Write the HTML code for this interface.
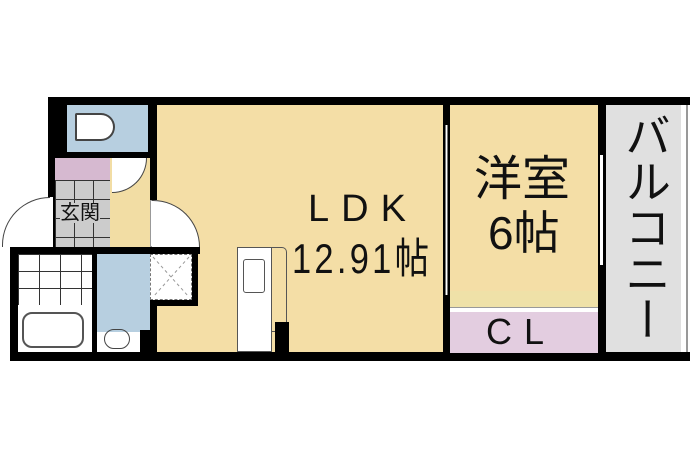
<!DOCTYPE html>
<html><head><meta charset="utf-8"><style>
body{margin:0;width:690px;height:460px;background:#fff;position:relative;overflow:hidden;font-family:"Liberation Sans","Noto Sans CJK JP",sans-serif}
div{position:absolute;box-sizing:border-box}
.b{background:#000}
.t{color:#111;white-space:nowrap;line-height:1}
</style></head><body>
<!-- LDK base -->
<div style="left:157px;top:105px;width:286px;height:247px;background:#f4dea6"></div>
<!-- walls -->
<div class="b" style="left:48px;top:97px;width:642px;height:8px"></div>
<div class="b" style="left:48px;top:97px;width:19px;height:100px"></div>
<div class="b" style="left:48px;top:197px;width:7px;height:50px"></div>
<div style="left:50px;top:197px;width:3px;height:50px;background:#fff"></div>
<div class="b" style="left:148px;top:97px;width:9px;height:103px"></div>
<div style="left:150px;top:200px;width:4px;height:47px;background:#fff;border:1px solid #999"></div>
<div class="b" style="left:10px;top:247px;width:190px;height:7px"></div>
<div class="b" style="left:10px;top:247px;width:8px;height:113px"></div>
<div class="b" style="left:10px;top:352px;width:680px;height:9px"></div>
<div class="b" style="left:150px;top:300px;width:48px;height:6px"></div>
<div class="b" style="left:150px;top:300px;width:7px;height:52px"></div>
<div class="b" style="left:192px;top:247px;width:6px;height:59px"></div>
<div class="b" style="left:443px;top:97px;width:7px;height:260px"></div>
<div class="b" style="left:598px;top:97px;width:8px;height:260px"></div>
<div class="b" style="left:586px;top:97px;width:30px;height:18px"></div>
<div class="b" style="left:586px;top:340px;width:30px;height:20px"></div>
<!-- toilet -->
<div style="left:67px;top:105px;width:81px;height:47px;background:#b7cfe0"></div>
<div style="left:75px;top:113px;width:40px;height:28px;border:2px solid #444;border-radius:2px 16px 16px 2px;background:#fff"></div>
<div class="b" style="left:55px;top:152px;width:102px;height:6px"></div>
<!-- entrance -->
<div style="left:55px;top:158px;width:55px;height:22px;background:#d6b9d0"></div>
<div style="left:55px;top:180px;width:55px;height:67px;background:#ccc;background-image:linear-gradient(#333 1px,transparent 1px),linear-gradient(90deg,#333 1px,transparent 1px);background-size:19px 19px"></div>
<div class="t" style="left:60px;top:203px;font-size:20px;background:#ccc">玄関</div>
<div style="left:110px;top:158px;width:40px;height:89px;background:#f2dda4"></div>
<div style="left:112px;top:158px;width:35px;height:35px;border:1px solid #444;border-radius:0 0 35px 0;background:#fff;border-left:none;border-top:none"></div>
<div style="left:2px;top:197px;width:48px;height:50px;border:1px solid #444;border-radius:50px 0 0 0;background:#fff;border-right:none;border-bottom:none"></div>
<div style="left:152px;top:200px;width:48px;height:47px;border:1px solid #444;border-radius:0 48px 0 0;background:#fff;border-left:none;border-bottom:none"></div>
<!-- bath -->
<div style="left:18px;top:254px;width:74px;height:52px;background:#fff;background-image:linear-gradient(#333 1px,transparent 1px),linear-gradient(90deg,#333 1px,transparent 1px);background-size:21px 17px"></div>
<div style="left:18px;top:305px;width:74px;height:47px;background:#fff"></div>
<div style="left:22px;top:312px;width:62px;height:36px;border:2px solid #555;border-radius:10px"></div>
<div class="b" style="left:92px;top:254px;width:5px;height:98px"></div>
<div style="left:97px;top:254px;width:53px;height:78px;background:#b7cfe0"></div>
<div style="left:97px;top:332px;width:43px;height:20px;background:#fff"></div>
<div style="left:104px;top:329px;width:26px;height:20px;border:1px solid #444;border-radius:12px"></div>
<div class="b" style="left:140px;top:330px;width:17px;height:22px"></div>
<div style="left:150px;top:254px;width:42px;height:46px;background:#fff;border:1px dashed #777"></div>
<svg style="position:absolute;left:150px;top:254px" width="42" height="46"><path d="M3 3L39 43M39 3L3 43" stroke="#999" stroke-dasharray="3 3"/></svg>
<!-- kitchen -->
<div style="left:237px;top:247px;width:35px;height:105px;background:#fff;border:1px solid #555"></div>
<div style="left:243px;top:259px;width:22px;height:34px;border:1px solid #555;border-radius:3px"></div>
<div style="left:272px;top:247px;width:15px;height:85px;border:1px solid #555;border-left:none;border-radius:0 5px 0 0"></div>
<div class="b" style="left:275px;top:322px;width:14px;height:30px"></div>
<div class="t" style="left:308px;top:190px;font-size:38px;letter-spacing:12px">LDK</div>
<div class="t" style="left:292px;top:238px;font-size:42px;transform:scaleX(.82);transform-origin:left;letter-spacing:4px">12.91帖</div>
<!-- window LDK/洋室 -->
<div style="left:445px;top:125px;width:3px;height:170px;background:#fff;border-left:1px solid #777;border-right:1px solid #777"></div>
<!-- 洋室 -->
<div style="left:450px;top:105px;width:148px;height:186px;background:#f4dea6"></div>
<div style="left:450px;top:291px;width:148px;height:21px;background:#efe1a8"></div>
<div style="left:450px;top:307px;width:148px;height:5px;background:#fff;border-top:1px solid #999"></div>
<div style="left:450px;top:312px;width:148px;height:41px;background:#e3cde0"></div>
<div class="t" style="left:474px;top:156px;font-size:48px">洋室</div>
<div class="t" style="left:488px;top:210px;font-size:46px">6帖</div>
<div class="t" style="left:486px;top:314px;font-size:36px;letter-spacing:12px">CL</div>
<div style="left:600px;top:155px;width:3px;height:110px;background:#fff"></div>
<!-- balcony -->
<div style="left:606px;top:105px;width:78px;height:247px;background:#e0e0e0;border-right:3px solid #fff"></div>
<div class="b" style="left:686px;top:105px;width:2px;height:247px;background:#999"></div>
<div class="t" style="left:622px;top:112px;font-size:46px;writing-mode:vertical-rl">バルコニー</div>
</body></html>
